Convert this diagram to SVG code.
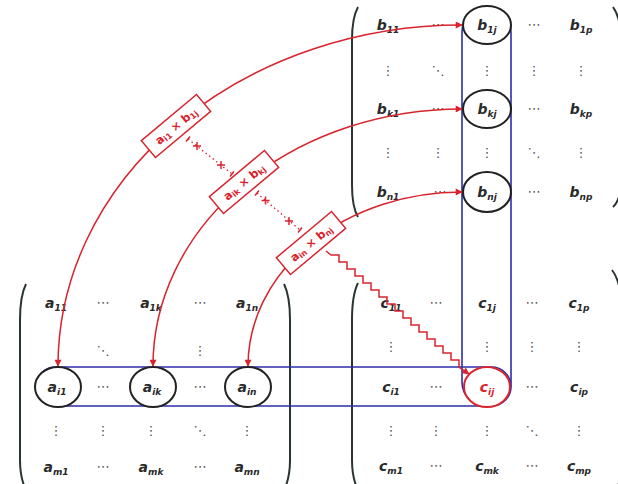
<svg xmlns="http://www.w3.org/2000/svg" width="618" height="484" viewBox="0 0 618 484">
<defs>
<marker id="ar" viewBox="0 0 10 10" refX="9" refY="5" markerWidth="8" markerHeight="7" orient="auto-start-reverse" markerUnits="userSpaceOnUse"><path d="M0,0 L10,5 L0,10 z" fill="#d9232d"/></marker>
<style>
.m{font-family:"DejaVu Sans",sans-serif;font-weight:bold;font-style:italic;font-size:14px;fill:#2a2a2a;text-anchor:middle}
.s{font-size:9px}
.d{font-family:"DejaVu Sans",sans-serif;font-size:13px;fill:#555;text-anchor:middle}
.p{fill:none;stroke:#2b3530;stroke-width:2}
.bl{fill:none;stroke:#2e2eaa;stroke-width:1.6}
.ci{fill:#fff;stroke:#222;stroke-width:2}
.cr{fill:#fff;stroke:#d9232d;stroke-width:2}
.r{fill:none;stroke:#d9232d;stroke-width:1.5}
.dt{fill:none;stroke:#d9232d;stroke-width:1.3;stroke-dasharray:1.5 3}
.lb{fill:#fff;stroke:#d9232d;stroke-width:1.5}
.lt{font-family:"DejaVu Sans",sans-serif;font-weight:bold;font-size:11.5px;fill:#d9232d;text-anchor:middle}
.ls{font-size:8px}
</style>
</defs>

<g id="matrixB">
<path class="p" d="M358,7 Q352,18 352,40 L352,185 Q352,207 358,217"/>
<path class="p" d="M613,7 Q621,18 621,40 L621,180 Q621,200 613,207"/>
<text class="m" x="388" y="30">b<tspan class="s" dy="3">11</tspan></text>
<text class="d" x="438" y="29">⋯</text>
<text class="d" x="534" y="29">⋯</text>
<text class="m" x="581" y="30">b<tspan class="s" dy="3">1p</tspan></text>
<text class="d" x="388" y="75">⋮</text><text class="d" x="438" y="75">⋱</text><text class="d" x="487" y="75">⋮</text><text class="d" x="534" y="75">⋮</text><text class="d" x="581" y="75">⋮</text>
<text class="m" x="388" y="114">b<tspan class="s" dy="3">k1</tspan></text>
<text class="d" x="438" y="113">⋯</text>
<text class="d" x="534" y="113">⋯</text>
<text class="m" x="581" y="114">b<tspan class="s" dy="3">kp</tspan></text>
<text class="d" x="388" y="157">⋮</text><text class="d" x="438" y="157">⋮</text><text class="d" x="487" y="157">⋮</text><text class="d" x="534" y="157">⋱</text><text class="d" x="581" y="157">⋮</text>
<text class="m" x="388" y="197">b<tspan class="s" dy="3">n1</tspan></text>
<text class="d" x="440" y="196">⋯</text>
<text class="d" x="534" y="196">⋯</text>
<text class="m" x="581" y="197">b<tspan class="s" dy="3">np</tspan></text>
</g>

<g id="matrixA">
<path class="p" d="M26,284 Q20,296 20,320 L20,460 Q20,478 26,490"/>
<path class="p" d="M284,284 Q290,296 290,320 L290,460 Q290,478 284,490"/>
<text class="m" x="56" y="308">a<tspan class="s" dy="3">11</tspan></text>
<text class="d" x="103" y="307">⋯</text>
<text class="m" x="151" y="308">a<tspan class="s" dy="3">1k</tspan></text>
<text class="d" x="200" y="307">⋯</text>
<text class="m" x="247" y="308">a<tspan class="s" dy="3">1n</tspan></text>
<text class="d" x="103" y="355">⋱</text><text class="d" x="200" y="355">⋮</text>
<text class="d" x="103" y="391">⋯</text>
<text class="d" x="200" y="391">⋯</text>
<text class="d" x="56" y="435">⋮</text><text class="d" x="103" y="435">⋮</text><text class="d" x="151" y="435">⋮</text><text class="d" x="200" y="435">⋱</text><text class="d" x="247" y="435">⋮</text>
<text class="m" x="56" y="472">a<tspan class="s" dy="3">m1</tspan></text>
<text class="d" x="103" y="471">⋯</text>
<text class="m" x="151" y="472">a<tspan class="s" dy="3">mk</tspan></text>
<text class="d" x="200" y="471">⋯</text>
<text class="m" x="247" y="472">a<tspan class="s" dy="3">mn</tspan></text>
</g>

<g id="matrixC">
<path class="p" d="M358,283 Q352,295 352,320 L352,460 Q352,478 358,490"/>
<path class="p" d="M612,270 Q621,282 621,305 L621,470 Q621,485 612,495"/>
<text class="m" x="391" y="308">c<tspan class="s" dy="3">11</tspan></text>
<text class="d" x="436" y="307">⋯</text>
<text class="m" x="487" y="308">c<tspan class="s" dy="3">1j</tspan></text>
<text class="d" x="532" y="307">⋯</text>
<text class="m" x="579" y="308">c<tspan class="s" dy="3">1p</tspan></text>
<text class="d" x="391" y="351">⋮</text><text class="d" x="487" y="351">⋮</text><text class="d" x="532" y="351">⋮</text><text class="d" x="579" y="351">⋮</text>
<text class="m" x="391" y="392">c<tspan class="s" dy="3">i1</tspan></text>
<text class="d" x="436" y="391">⋯</text>
<text class="d" x="532" y="391">⋯</text>
<text class="m" x="579" y="392">c<tspan class="s" dy="3">ip</tspan></text>
<text class="d" x="391" y="435">⋮</text><text class="d" x="436" y="435">⋮</text><text class="d" x="487" y="435">⋮</text><text class="d" x="532" y="435">⋱</text><text class="d" x="579" y="435">⋮</text>
<text class="m" x="391" y="471">c<tspan class="s" dy="3">m1</tspan></text>
<text class="d" x="436" y="470">⋯</text>
<text class="m" x="487" y="471">c<tspan class="s" dy="3">mk</tspan></text>
<text class="d" x="532" y="470">⋯</text>
<text class="m" x="579" y="471">c<tspan class="s" dy="3">mp</tspan></text>
</g>

<g id="highlights">
<rect class="bl" x="462" y="8" width="49" height="398" rx="24"/>
<rect class="bl" x="36" y="367" width="475" height="39" rx="19.5"/>
</g>

<g id="a_i1"><ellipse class="ci" cx="58" cy="387" rx="23" ry="20"/><text class="m" x="57" y="392">a<tspan class="s" dy="3">i1</tspan></text></g>
<g id="a_ik"><ellipse class="ci" cx="153" cy="387" rx="23" ry="20"/><text class="m" x="152" y="392">a<tspan class="s" dy="3">ik</tspan></text></g>
<g id="a_in"><ellipse class="ci" cx="248" cy="387" rx="23" ry="20"/><text class="m" x="247" y="392">a<tspan class="s" dy="3">in</tspan></text></g>
<g id="b_1j"><ellipse class="ci" cx="487" cy="25" rx="24" ry="19"/><text class="m" x="487" y="30">b<tspan class="s" dy="3">1j</tspan></text></g>
<g id="b_kj"><ellipse class="ci" cx="487" cy="109" rx="24" ry="19"/><text class="m" x="487" y="114">b<tspan class="s" dy="3">kj</tspan></text></g>
<g id="b_nj"><ellipse class="ci" cx="487" cy="192" rx="24" ry="20"/><text class="m" x="487" y="197">b<tspan class="s" dy="3">nj</tspan></text></g>
<g id="c_ij"><ellipse class="cr" cx="487" cy="387" rx="23" ry="20"/><text class="m" x="487" y="392" style="fill:#d9232d">c<tspan class="s" dy="3">ij</tspan></text></g>

<g id="connectors">
<path class="r" d="M58,366 A404,341 0 0 1 462,25" marker-start="url(#ar)" marker-end="url(#ar)"/>
<path class="r" d="M153,366 A309,257 0 0 1 462,109" marker-start="url(#ar)" marker-end="url(#ar)"/>
<path class="r" d="M248,366 A214,174 0 0 1 462,192" marker-start="url(#ar)" marker-end="url(#ar)"/>
<path class="dt" d="M188,139 L232,174"/>
<path class="r" d="M186,141.5 L190,136.5 M230,176.5 L234,171.5 M193,146 h8 M197,142 v8 M217,165 h8 M221,161 v8"/>
<path class="dt" d="M257,193 L300,230"/>
<path class="r" d="M255,195.5 L259,190.5 M298,232.5 L302,227.5 M261.5,200.5 h8 M265.5,196.5 v8 M285,221 h8 M289,217 v8"/>
<path class="r" d="M326,251 L331,255 h8 v7 h8 v7 h8 v7 h8 v7 h8 v7 h8 v7 h8 v7 h8 v7 h8 v7 h8 v7 h8 v7 h8 v7 h8 v7 h8 v7 h8 v7 h8 v7 L469,374" marker-end="url(#ar)"/>
</g>

<g id="label1" transform="translate(176,126) rotate(-40)"><rect class="lb" x="-36" y="-11" width="72" height="22"/><text class="lt" y="4">a<tspan class="ls" dy="2">i1</tspan><tspan dy="-2"> × b</tspan><tspan class="ls" dy="2">1j</tspan></text></g>
<g id="label2" transform="translate(244,182) rotate(-40)"><rect class="lb" x="-36" y="-11" width="72" height="22"/><text class="lt" y="4">a<tspan class="ls" dy="2">ik</tspan><tspan dy="-2"> × b</tspan><tspan class="ls" dy="2">kj</tspan></text></g>
<g id="label3" transform="translate(311,243) rotate(-40)"><rect class="lb" x="-36" y="-11" width="72" height="22"/><text class="lt" y="4">a<tspan class="ls" dy="2">in</tspan><tspan dy="-2"> × b</tspan><tspan class="ls" dy="2">nj</tspan></text></g>
</svg>
